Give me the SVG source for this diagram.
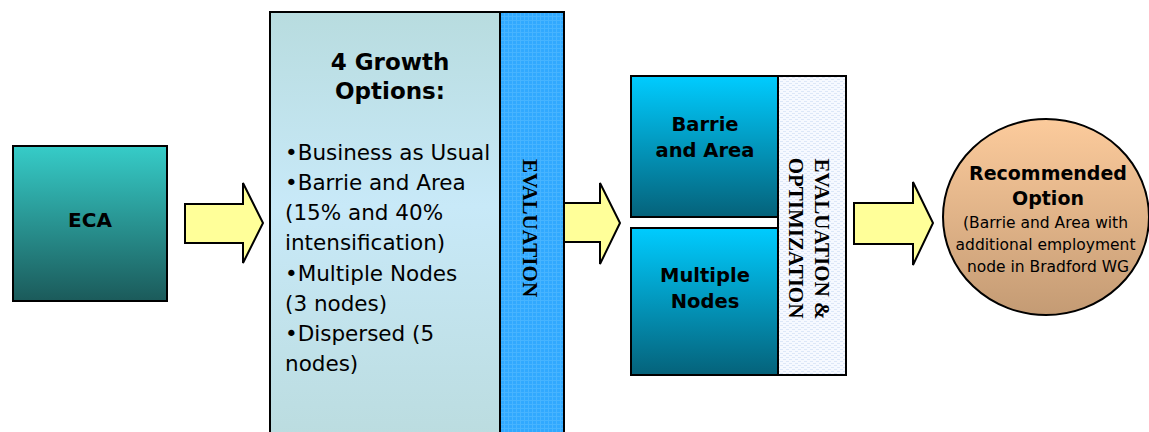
<svg xmlns="http://www.w3.org/2000/svg" width="1149" height="432" viewBox="0 0 1149 432">
  <defs>
    <linearGradient id="gTeal" x1="0" y1="0" x2="0" y2="1">
      <stop offset="0" stop-color="#36CCC8"/>
      <stop offset="1" stop-color="#1B5A5A"/>
    </linearGradient>
    <linearGradient id="gPale" x1="0" y1="0" x2="0" y2="1">
      <stop offset="0" stop-color="#B8DCDF"/>
      <stop offset="0.45" stop-color="#C8E9F8"/>
      <stop offset="1" stop-color="#BBDCDF"/>
    </linearGradient>
    <linearGradient id="gCyan" x1="0" y1="0" x2="0" y2="1">
      <stop offset="0" stop-color="#00CCFF"/>
      <stop offset="1" stop-color="#05627A"/>
    </linearGradient>
    <linearGradient id="gPeach" x1="0" y1="0" x2="0" y2="1">
      <stop offset="0" stop-color="#FCCB9C"/>
      <stop offset="1" stop-color="#C49B74"/>
    </linearGradient>
    <pattern id="pGrid" width="4" height="4" patternUnits="userSpaceOnUse">
      <rect width="4" height="4" fill="#31A9FF"/>
      <rect width="4" height="1" fill="#47B4FF"/>
      <rect width="1" height="4" fill="#47B4FF"/>
    </pattern>
    <pattern id="pWeave" width="6" height="4" patternUnits="userSpaceOnUse">
      <rect width="6" height="4" fill="#F6F9FF"/>
      <rect y="1" width="3" height="1" fill="#DCE7F8"/>
      <rect x="3" y="3" width="3" height="1" fill="#DCE7F8"/>
    </pattern>
  </defs>
  <style>
    .box { stroke: #000; stroke-width: 2; }
    .arrow { fill: #FFFF99; stroke: #000; stroke-width: 2; stroke-linejoin: miter; }
    .hd { font-family: "DejaVu Sans", Verdana, sans-serif; font-weight: bold; fill: #000; text-anchor: middle; }
    .body { font-family: "DejaVu Sans", Verdana, sans-serif; fill: #000; }
    .vert { font-family: "Liberation Serif", "Times New Roman", serif; font-weight: bold; font-size: 21px; fill: #000; text-anchor: middle; }
  </style>

  <!-- flow arrows -->
  <g id="connectors">
    <polygon class="arrow" points="185,204 243,204 243,183 263,223 243,263 243,243 185,243"/>
    <polygon class="arrow" points="560,203 600,203 600,183 620,223 600,264 600,242 560,242"/>
    <polygon class="arrow" points="854,203 913,203 913,182 933,223 913,265 913,244 854,244"/>
  </g>

  <g id="eca">
    <rect class="box" x="13" y="146" width="154" height="155" fill="url(#gTeal)"/>
    <text class="hd" x="90" y="227" font-size="20">ECA</text>
  </g>

  <g id="growth-options">
    <rect class="box" x="270" y="12" width="230" height="430" fill="url(#gPale)"/>
    <text class="hd" x="390" y="70" font-size="23">4 Growth</text>
    <text class="hd" x="390" y="99" font-size="23">Options:</text>
    <text class="body" font-size="21.5">
      <tspan x="285" y="160">•Business as Usual</tspan>
      <tspan x="285" y="190">•Barrie and Area</tspan>
      <tspan x="285" y="220">(15% and 40%</tspan>
      <tspan x="285" y="250">intensification)</tspan>
      <tspan x="285" y="281">•Multiple Nodes</tspan>
      <tspan x="285" y="311">(3 nodes)</tspan>
      <tspan x="285" y="341">•Dispersed (5</tspan>
      <tspan x="285" y="371">nodes)</tspan>
    </text>
  </g>

  <g id="evaluation">
    <rect class="box" x="500" y="12" width="64" height="430" fill="url(#pGrid)"/>
    <text class="vert" transform="translate(523,228) rotate(90)">EVALUATION</text>
  </g>

  <g id="barrie-area">
    <rect class="box" x="631" y="76" width="147" height="141" fill="url(#gCyan)"/>
    <text class="hd" x="705" y="131" font-size="19.5">Barrie</text>
    <text class="hd" x="705" y="157" font-size="19.5">and Area</text>
  </g>

  <g id="multiple-nodes">
    <rect class="box" x="631" y="228" width="147" height="147" fill="url(#gCyan)"/>
    <text class="hd" x="705" y="282" font-size="19.5">Multiple</text>
    <text class="hd" x="705" y="308" font-size="19.5">Nodes</text>
  </g>

  <g id="evaluation-optimization">
    <rect class="box" x="778" y="76" width="68" height="299" fill="url(#pWeave)"/>
    <text class="vert" transform="translate(815,239) rotate(90)">EVALUATION &amp;</text>
    <text class="vert" transform="translate(789,238) rotate(90)">OPTIMIZATION</text>
  </g>

  <g id="recommended-option">
    <ellipse class="box" cx="1046" cy="217" rx="103" ry="98" fill="url(#gPeach)"/>
    <text class="hd" x="1048" y="180" font-size="19">Recommended</text>
    <text class="hd" x="1048" y="205" font-size="19">Option</text>
    <text class="body" font-size="15.5" text-anchor="middle">
      <tspan x="1048" y="228">(Barrie and Area with</tspan>
      <tspan x="1048" y="250">additional employment</tspan>
      <tspan x="1048" y="272">node in Bradford WG</tspan>
    </text>
  </g>
</svg>
